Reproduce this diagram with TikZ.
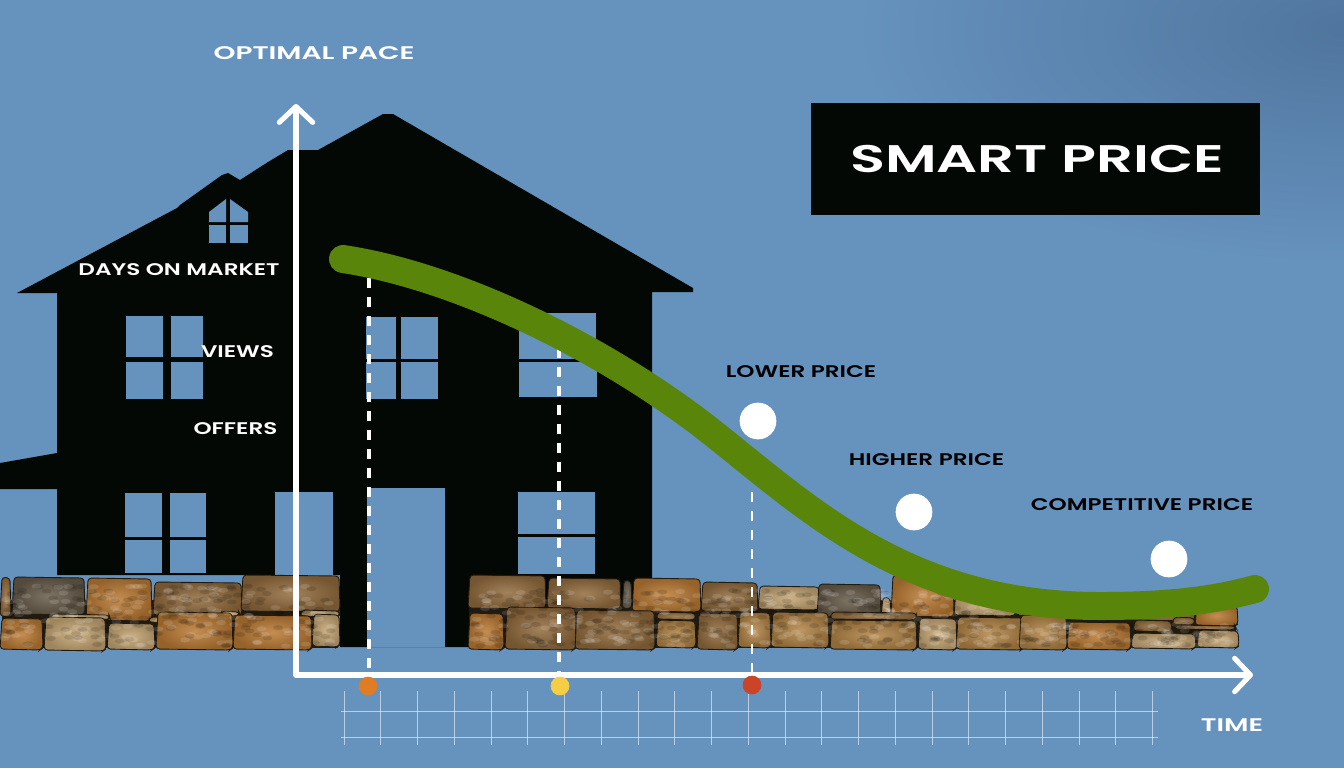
\documentclass[tikz,border=0pt]{standalone}
\usepackage{fontspec}
\setmainfont{Poppins}[BoldFont={Poppins SemiBold}]
\usetikzlibrary{calc}
\usetikzlibrary{arrows.meta}
\usetikzlibrary{fadings}
\tikzfading[name=cornerfade,inner color=transparent!0,outer color=transparent!100]
\definecolor{skyblue}{RGB}{102,146,190}
\definecolor{skydark}{RGB}{80,118,158}
\definecolor{housecol}{RGB}{4,8,4}
\definecolor{curvecol}{RGB}{88,133,10}
\definecolor{mortar}{RGB}{32,26,16}
\definecolor{ochre}{RGB}{178,132,70}
\definecolor{rust}{RGB}{186,122,52}
\definecolor{sand}{RGB}{198,166,116}
\definecolor{slate}{RGB}{104,92,74}
\definecolor{umber}{RGB}{146,108,62}
\definecolor{dotorange}{RGB}{224,124,36}
\definecolor{dotyellow}{RGB}{246,206,70}
\definecolor{dotred}{RGB}{204,68,40}
\tikzset{
  pane/.style={fill=skyblue},
  stone/.style={draw=mortar,line width=0.5pt,rounded corners=2pt},
  lab/.style={font=\bfseries\fontsize{9.6}{12}\selectfont,xscale=1.37,transform shape,inner sep=0pt},
  axislab/.style={font=\bfseries\fontsize{10.4}{12}\selectfont,xscale=1.49,transform shape,inner sep=0pt,white},
  dropline/.style={white,line width=2.2pt,dash pattern=on 10*0.569pt off 9*0.569pt},
  axisline/.style={white,line width=2.9pt,line cap=round,line join=round,
    >={Straight Barb[length=9pt,width=19pt,line width=2.9pt,round]}},
}
\begin{document}
\begin{tikzpicture}[x=0.02cm,y=-0.02cm]
  \useasboundingbox (0,0) rectangle (1344,768);
  \fill [skyblue] (0,0) rectangle (1344,768);
  \begin{scope}
    \clip (0,0) rectangle (1344,768);
    \fill [skydark,path fading=cornerfade] (1344,30) ellipse [x radius=480,y radius=230];
  \end{scope}

  % house
  \fill [housecol] (17,293) -- (177,208) -- (180,205) -- (222,175) -- (228,173) -- (240,180)
    -- (268,162) -- (288,150) -- (318,150) -- (383,114) -- (393,114) -- (693,288) -- (693,292)
    -- (652,292) -- (652,647) -- (340,647) -- (340,575) -- (57,575) -- (57,489) -- (0,489)
    -- (0,463) -- (57,453) -- (57,293) -- cycle;
  % windows
  \foreach \xa/\ya/\xb/\yb in {209/225/226/243, 230/225/248/243,
      126/316/163/357, 171/316/203/357, 126/362/163/399, 171/362/203/399,
      366/317/396/359, 401/317/438/359, 366/362/396/399, 401/362/438/399,
      519/313/596/359, 519/362/597/397,
      125/493/162/537, 170/493/206/537, 125/540/162/573, 170/540/206/573,
      275/492/333/590, 367/488/445/647,
      518/492/595/534, 518/537/595/574}
    \fill [pane] (\xa,\ya) rectangle (\xb,\yb);
  \fill [pane] (209,222) -- (209,212) -- (226,199) -- (226,222) -- cycle;
  \fill [pane] (230,222) -- (230,199) -- (248,212) -- (248,222) -- cycle;

  % stone wall
  \fill [mortar] (2,600) rectangle (338,648);
  \fill [mortar] (469,600) rectangle (1195,648);
  \fill [mortar] (1195,612) rectangle (1236,648);
  \foreach \xa/\ya/\xb/\yb/\c in {
      0/577/11/617/umber, 12/577/85/615/slate, 86/578/152/621/rust, 153/582/242/616/umber,
      241/575/340/612/umber, 50/614/110/620/sand, 148/617/185/623/sand, 220/611/240/616/sand,
      300/610/340/617/sand, 0/618/43/650/rust, 44/617/106/651/sand, 107/623/155/650/sand,
      156/612/233/650/rust, 233/615/312/650/rust, 312/614/340/647/sand,
      468/575/546/609/umber, 547/578/621/609/umber, 622/580/632/609/slate, 632/578/701/612/rust,
      701/582/758/612/umber, 758/586/820/610/sand, 817/584/881/617/slate, 881/597/891/617/sand,
      891/575/954/617/rust, 954/590/1016/616/sand, 1016/598/1131/616/sand, 1131/606/1195/621/umber,
      468/613/504/650/rust, 505/607/576/650/umber, 575/610/655/650/umber, 656/620/696/648/ochre,
      697/613/738/650/umber, 738/612/771/648/ochre, 771/612/829/648/ochre, 830/620/917/650/ochre,
      918/618/957/650/sand, 956/617/1024/650/ochre, 1019/615/1067/650/ochre, 1067/622/1131/650/rust,
      1131/633/1196/649/sand, 1197/630/1239/648/sand, 1133/620/1172/632/umber,
      1172/617/1195/625/umber, 1195/605/1238/626/rust, 1174/625/1236/630/umber,
      656/612/696/620/umber, 830/612/917/620/umber}
    \shadedraw [stone,inner color=\c!85!white,outer color=\c!80!black]
      (\xa+2,\ya) -- (\xb-1,\ya+1) -- (\xb,\yb-2) -- (\xb-3,\yb) -- (\xa,\yb-1) -- cycle;
  % mottled surface of the stones
  \pgfmathsetseed{11}
  \foreach \xs/\ws/\ytop/\hs/\num in {4/330/586/60/300, 472/540/590/56/500, 1020/210/624/22/120}
    \foreach \n in {1,...,\num} {
      \pgfmathsetmacro{\sx}{\xs+rnd*\ws}
      \pgfmathsetmacro{\sy}{\ytop+rnd*\hs}
      \pgfmathsetmacro{\sk}{rnd>0.5 ? 100 : 0}
      \fill [black!\sk!white,opacity=0.13] (\sx,\sy) ellipse [x radius=5,y radius=2.5];
    }

  % scale under the axis
  \foreach \n in {0,...,22}
    \draw [white,opacity=0.55,line width=0.5pt] ({344+36.75*\n},691) -- ({344+36.75*\n},745);
  \foreach \y in {711,737}
    \draw [white,opacity=0.55,line width=0.5pt] (341,\y) -- (1158,\y);

  % axes
  \coordinate (ytop) at (296,104);
  \coordinate (orig) at (296,675);
  \coordinate (xend) at (1253,675);
  \draw [axisline,<->] (ytop) -- (orig) -- (xend);

  % dashed drops
  \coordinate (d1top) at (369,278);
  \coordinate (d1bot) at (369,675);
  \coordinate (d2top) at (559,348);
  \coordinate (d2bot) at (559,675);
  \coordinate (d3top) at (752,492);
  \coordinate (d3bot) at (752,675);
  \draw [dropline] (d1top) -- (d1bot);
  \draw [dropline] (d2top) -- (d2bot);
  \draw [dropline,line width=1.6pt] (d3top) -- (d3bot);

  % curve
  \draw [curvecol,line width=28*0.569pt,line cap=round] (343,259)
    .. controls (450,275) and (590,340) .. (700,423)
    .. controls (800,500) and (900,606) .. (1100,606)
    .. controls (1170,606) and (1215,600) .. (1255,589);

  % dots
  \coordinate (odot) at (368,686);
  \draw [dotorange,fill] (odot) circle [radius=9];
  \coordinate (ydot) at (560,686);
  \draw [dotyellow,fill] (ydot) circle [radius=9];
  \coordinate (rdot) at (752,685);
  \draw [dotred,fill] (rdot) circle [radius=9];
  \coordinate (lowc) at (758,421);
  \draw [white,fill] (lowc) circle [radius=18];
  \coordinate (highc) at (914,512);
  \draw [white,fill] (highc) circle [radius=18];
  \coordinate (compc) at (1169,559);
  \draw [white,fill] (compc) circle [radius=18];

  % title
  \fill [housecol] (811,103) rectangle (1260,215);
  \node [lab,white,font=\bfseries\fontsize{21.9}{26}\selectfont,xscale=1.09] (title) at (1037,159) {SMART PRICE};

  % labels
  \node [axislab,xscale=1.027] (pace) at (314,53) {OPTIMAL PACE};
  \node [lab,white] (days) at (179,270) {DAYS ON MARKET};
  \node [lab,white] (views) at (237.5,352) {VIEWS};
  \node [lab,white] (offers) at (235.5,429) {OFFERS};
  \node [lab,black] (lower) at (801,372) {LOWER PRICE};
  \node [lab,black] (higher) at (926.5,460) {HIGHER PRICE};
  \node [lab,black] (compet) at (1142,505) {COMPETITIVE PRICE};
  \node [axislab] (time) at (1232,725) {TIME};
\end{tikzpicture}
\end{document}
